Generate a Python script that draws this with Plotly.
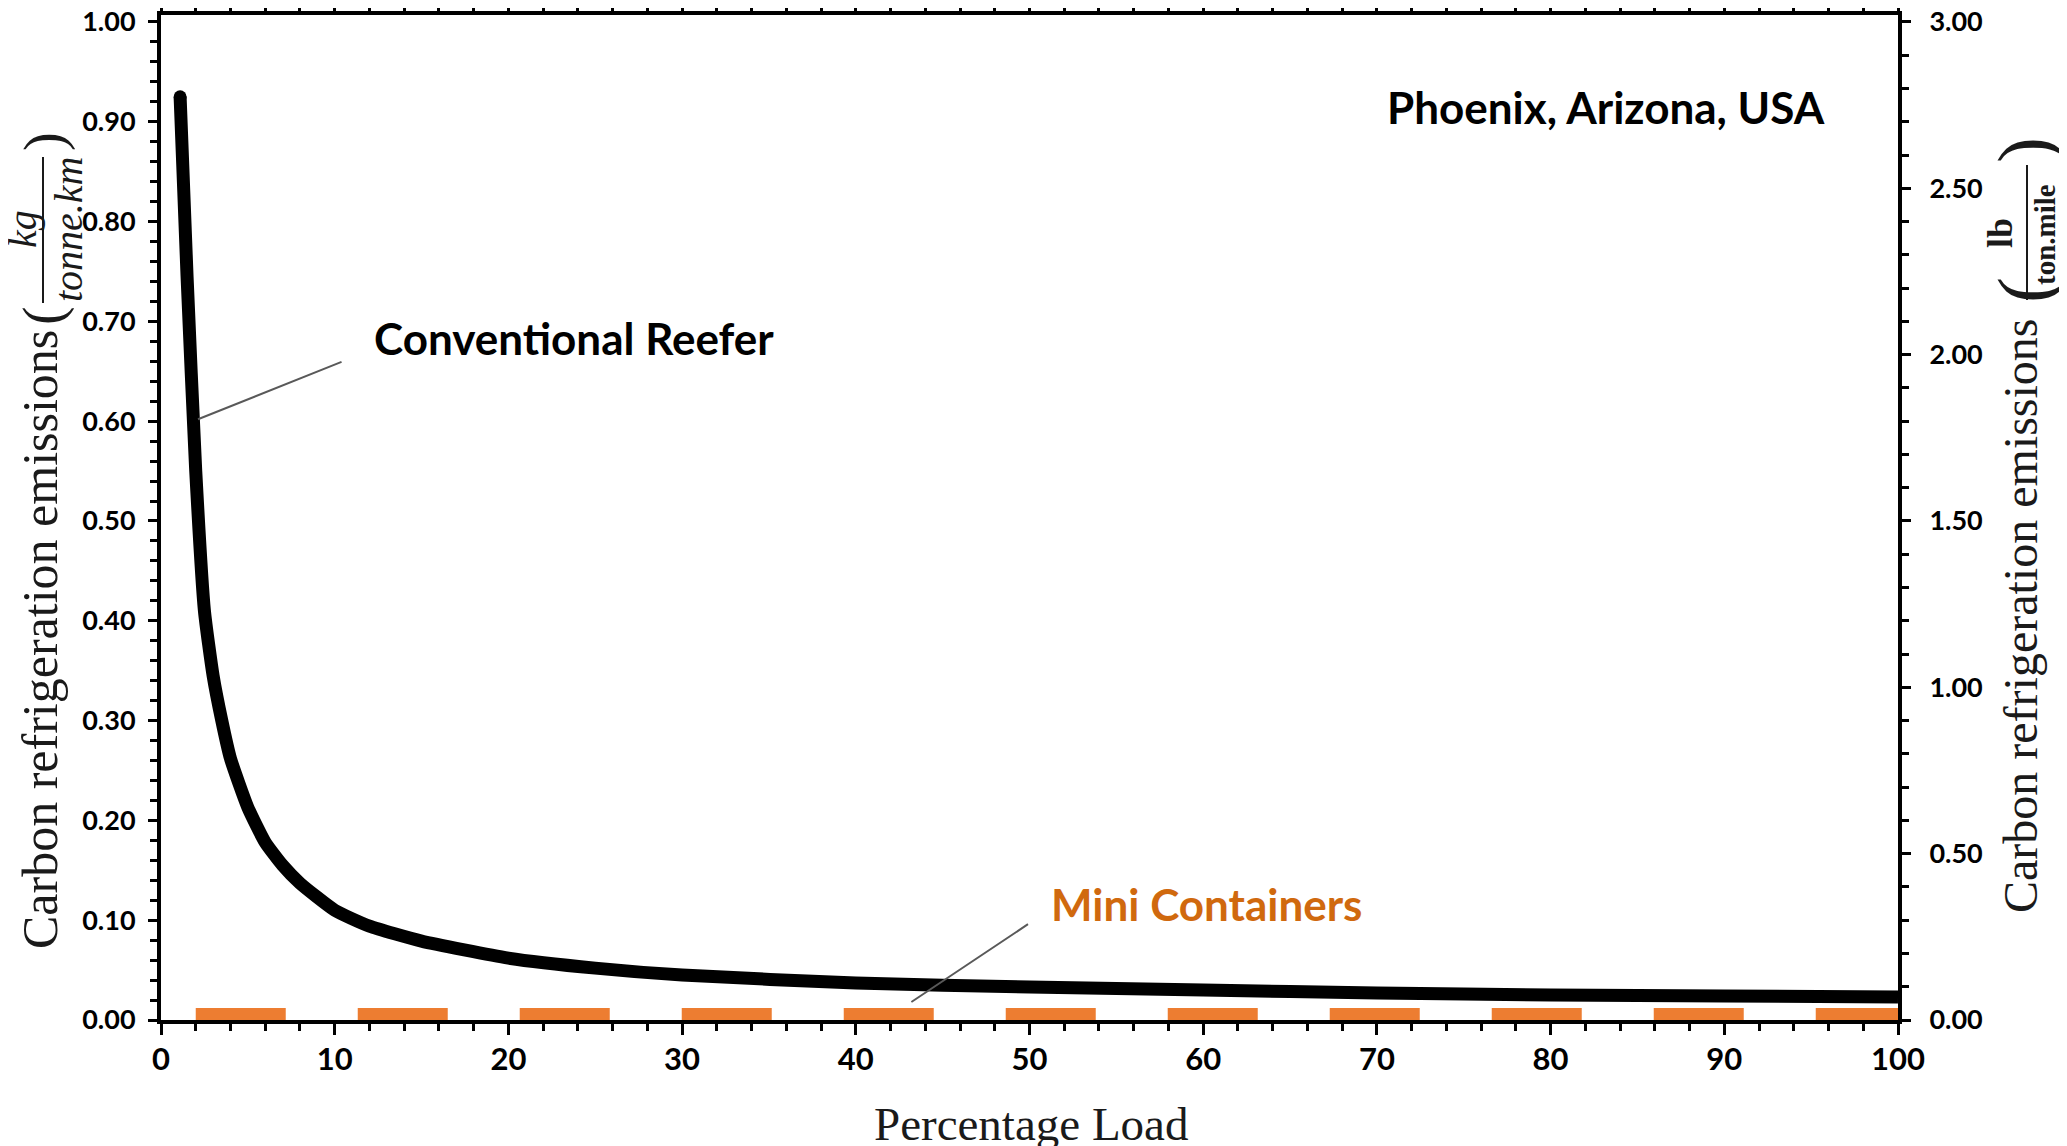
import plotly.graph_objects as go

# ---- data ----
load_reefer = [1.1, 1.5, 2.0, 2.5, 3.0, 3.5, 4, 5, 6, 7, 8, 10, 12, 15, 20, 25, 30,
               40, 50, 60, 70, 80, 90, 100]
reefer = [0.925, 0.745, 0.55, 0.41, 0.345, 0.30, 0.262, 0.213, 0.178, 0.155, 0.137,
          0.110, 0.094, 0.079, 0.062, 0.052, 0.045, 0.037, 0.033, 0.030, 0.027,
          0.025, 0.024, 0.023]
load_mini = [2, 10, 20, 30, 40, 50, 60, 70, 80, 90, 100]
mini = [0.001, 0.001, 0.001, 0.001, 0.001, 0.001, 0.001, 0.001, 0.001, 0.001, 0.001]

x_ticks = [0, 10, 20, 30, 40, 50, 60, 70, 80, 90, 100]
y_ticks = [0.0, 0.1, 0.2, 0.3, 0.4, 0.5, 0.6, 0.7, 0.8, 0.9, 1.0]
y2_ticks = [0.0, 0.5, 1.0, 1.5, 2.0, 2.5, 3.0]

# ---- layout geometry (pixels) ----
OFF = 8  # default page body margin
W, H = 2067, 1146
L, R, T, B = 161 - OFF, 169 + OFF, 15 - OFF, 126 + OFF
PW, PH = W - L - R, H - T - B


def px(xp):  # page x -> paper
    return (xp - OFF - L) / PW


def py(yp):  # page y -> paper
    return (H - B - (yp - OFF)) / PH


ORANGE = "#ED7D31"
TXT_ORANGE = "#D0690E"
YTICKFONT = dict(family="Lato", size=27, color="black", weight="bold")
XTICKFONT = dict(family="Lato", size=31, color="black", weight="bold")
SERIF = "Liberation Serif"

fig = go.Figure()
fig.add_trace(go.Scatter(x=load_mini, y=mini, mode="lines",
                         line=dict(color=ORANGE, width=22, dash="90px,72px"),
                         showlegend=False, hoverinfo="skip"))
fig.add_trace(go.Scatter(x=load_reefer, y=reefer, mode="lines",
                         line=dict(color="black", width=13, shape="spline", smoothing=0.5),
                         showlegend=False))
# rounded start of the curve
fig.add_trace(go.Scatter(x=load_reefer[:1], y=reefer[:1], mode="markers",
                         marker=dict(color="black", size=13, line=dict(width=0)),
                         showlegend=False, hoverinfo="skip"))
# invisible trace to activate the secondary axis
fig.add_trace(go.Scatter(x=[0], y=[0], yaxis="y2", mode="markers",
                         marker=dict(opacity=0), showlegend=False, hoverinfo="skip"))

axis_common = dict(showline=True, linecolor="black", linewidth=4, ticks="outside",
                   tickwidth=3, tickcolor="black", showgrid=False, zeroline=False,
                   automargin=False, ticklabeloverflow="allow")

fig.update_layout(
    width=W, height=H,
    margin=dict(l=L, r=R, t=T, b=B, pad=0, autoexpand=False),
    paper_bgcolor="white", plot_bgcolor="white",
    xaxis=dict(range=[0, 100], tickvals=x_ticks, ticklen=11, mirror="ticks",
               ticklabelstandoff=-2, tickfont=XTICKFONT,
               minor=dict(dtick=2, ticklen=7, tickwidth=3, tickcolor="black", ticks="outside"),
               **axis_common),
    yaxis=dict(range=[0, 1.007], tickvals=y_ticks, tickformat=".2f", ticklen=9,
               ticklabelstandoff=7, tickfont=YTICKFONT,
               minor=dict(dtick=0.02, ticklen=7, tickwidth=3, tickcolor="black", ticks="outside"),
               **axis_common),
    yaxis2=dict(range=[0, 3.021], tickvals=y2_ticks, tickformat=".2f", ticklen=9,
                overlaying="y", side="right", ticklabelstandoff=13, tickfont=YTICKFONT,
                minor=dict(dtick=0.1, ticklen=7, tickwidth=3, tickcolor="black", ticks="outside"),
                **axis_common),
)

ann = []
LABF = dict(family="Lato", size=44, color="black", weight="bold")
# series labels
ann.append(dict(x=23.8, y=0.683, xref="x", yref="y", text="Conventional Reefer", showarrow=False,
                font=LABF))
ann.append(dict(x=83.2, y=0.915, xref="x", yref="y", text="Phoenix, Arizona, USA", showarrow=False,
                font=LABF))
ann.append(dict(x=60.2, y=0.116, xref="x", yref="y", text="Mini Containers", showarrow=False,
                font=dict(LABF, color=TXT_ORANGE)))
# leader lines
ann.append(dict(x=2.13, y=0.602, ax=10.48, ay=0.660, xref="x", yref="y", axref="x", ayref="y",
                text="", showarrow=True, arrowhead=0, arrowwidth=2, arrowcolor="#595959"))
ann.append(dict(x=43.2, y=0.018, ax=50.0, ay=0.097, xref="x", yref="y", axref="x", ayref="y",
                text="", showarrow=True, arrowhead=0, arrowwidth=2, arrowcolor="#595959"))

# x-axis title
ann.append(dict(x=px(1031), y=py(1124), xref="paper", yref="paper", text="Percentage Load",
                showarrow=False, yanchor="middle", font=dict(family=SERIF, size=47, color="#1a1a1a")))


def rot(xp, yp, text, size, **kw):
    f = dict(family=SERIF, size=size, color="#1a1a1a")
    f.update(kw)
    ann.append(dict(x=px(xp), y=py(yp), xref="paper", yref="paper", text=text, textangle=-90,
                    showarrow=False, xanchor="center", yanchor="middle", font=f))


# left axis title
rot(40, 640, "Carbon refrigeration emissions", 50)
rot(44, 316, "(", 56)
rot(44, 142, ")", 56)
rot(22, 229, "<i>kg</i>", 40)
rot(68, 229, "<i>tonne.km</i>", 40)
# right axis title
rot(2020, 615, "Carbon refrigeration emissions", 48)
rot(2025, 290, "(", 78)
rot(2025, 150, ")", 78)
rot(2000, 233, "<b>lb</b>", 36)
rot(2045, 234, "<b>ton.mile</b>", 29)

fig.update_layout(annotations=ann)

# fraction bars
fig.add_shape(type="line", xref="paper", yref="paper", x0=px(43), x1=px(43), y0=py(157), y1=py(303),
              line=dict(color="#1a1a1a", width=2))
fig.add_shape(type="line", xref="paper", yref="paper", x0=px(2027), x1=px(2027), y0=py(165), y1=py(300),
              line=dict(color="#1a1a1a", width=2))

fig.write_html("out.html")
